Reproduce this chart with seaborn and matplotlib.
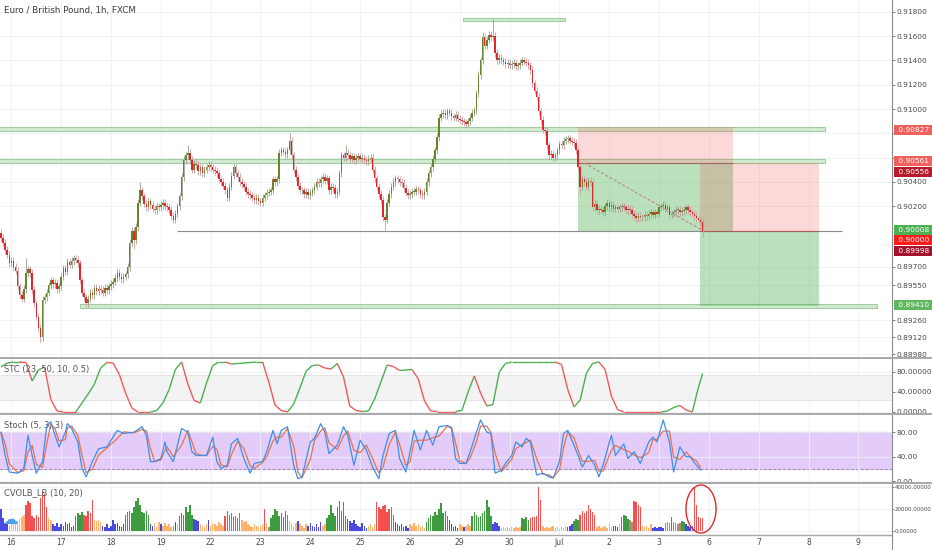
import numpy as np
import pandas as pd
import seaborn as sns
import matplotlib
matplotlib.use("Agg")
import matplotlib.pyplot as plt
import matplotlib.transforms as mtransforms
from matplotlib.collections import LineCollection
from matplotlib.lines import Line2D
from matplotlib.patches import Rectangle, Ellipse

sns.set_theme(style="white")
plt.rcParams['font.family'] = ['DejaVu Sans']

# ---- data --------------------------------------------------------------
# hourly closes in pips (8994 -> 0.8994), one per candle
CLOSE_PIPS = [
    8994, 8990, 8984, 8980, 8973, 8975, 8970, 8967, 8954, 8947,
    8944, 8952, 8965, 8968, 8965, 8951, 8940, 8929, 8920, 8912,
    8943, 8945, 8949, 8955, 8959, 8956, 8957, 8952, 8954, 8962,
    8969, 8966, 8974, 8972, 8975, 8977, 8976, 8973, 8959, 8949,
    8945, 8940, 8944, 8949, 8947, 8953, 8950, 8952, 8951, 8949,
    8953, 8951, 8954, 8956, 8958, 8961, 8965, 8962, 8960, 8962,
    8964, 8970, 8990, 9000, 8992, 9003, 9023, 9033, 9028, 9022,
    9019, 9024, 9021, 9018, 9017, 9020, 9019, 9021, 9023, 9020,
    9019, 9017, 9012, 9009, 9014, 9020, 9028, 9044, 9058, 9062,
    9064, 9058, 9050, 9055, 9054, 9049, 9052, 9047, 9050, 9052,
    9054, 9052, 9050, 9049, 9047, 9042, 9040, 9037, 9033, 9027,
    9036, 9045, 9052, 9047, 9044, 9040, 9038, 9036, 9032, 9030,
    9029, 9027, 9025, 9027, 9024, 9023, 9027, 9029, 9031, 9032,
    9033, 9042, 9040, 9042, 9064, 9066, 9065, 9063, 9066, 9074,
    9062, 9050, 9044, 9037, 9033, 9033, 9030, 9032, 9029, 9031,
    9033, 9036, 9040, 9039, 9042, 9044, 9041, 9043, 9033, 9036,
    9035, 9030, 9032, 9047, 9062, 9060, 9064, 9062, 9059, 9061,
    9058, 9060, 9061, 9059, 9060, 9058, 9057, 9059, 9060, 9050,
    9043, 9036, 9030, 9025, 9011, 9009, 9023, 9030, 9036, 9040,
    9043, 9042, 9040, 9039, 9035, 9031, 9029, 9030, 9032, 9032,
    9034, 9033, 9030, 9029, 9032, 9040, 9047, 9052, 9059, 9066,
    9077, 9093, 9096, 9097, 9095, 9098, 9097, 9094, 9093, 9095,
    9092, 9091, 9090, 9089, 9088, 9090, 9093, 9097, 9099, 9113,
    9128, 9140, 9159, 9152, 9157, 9161, 9159, 9160, 9146, 9140,
    9142, 9140, 9139, 9137, 9138, 9136, 9137, 9138, 9135, 9136,
    9138, 9140, 9139, 9138, 9136, 9132, 9121, 9115, 9110, 9098,
    9091, 9083, 9082, 9070, 9062, 9063, 9060, 9062, 9066, 9071,
    9070, 9074, 9075, 9076, 9074, 9073, 9072, 9066, 9052, 9036,
    9042, 9040, 9036, 9041, 9040, 9019, 9022, 9017, 9018, 9017,
    9015, 9020, 9023, 9019, 9021, 9018, 9019, 9018, 9019, 9020,
    9019, 9017, 9018, 9017, 9014, 9012, 9010, 9012, 9011, 9011,
    9013, 9012, 9014, 9015, 9013, 9015, 9014, 9019, 9020, 9021,
    9018, 9019, 9013, 9014, 9015, 9017, 9017, 9015, 9016, 9017,
    9019, 9017, 9015, 9014, 9012, 9010, 9009, 9007, 9000,
]
FIRST_OPEN = 8998
SPIKE_HIGH = {12: 8977, 35: 8980, 67: 9040, 90: 9070, 139: 9080, 166: 9070,
              210: 9080, 232: 9163, 237: 9174, 273: 9078}
SPIKE_LOW = {19: 8908, 41: 8938, 64: 8985, 125: 9020, 185: 9000, 279: 9030,
             338: 8995}

# volume in thousands, and its colour class per candle
VOLUME_K = [
    20, 12, 7, 6, 5, 7, 6, 8, 9, 11,
    13, 15, 24, 27, 25, 14, 12, 15, 13, 30,
    36, 34, 22, 12, 10, 6, 5, 7, 4, 6,
    5, 8, 6, 7, 4, 5, 14, 16, 15, 17,
    15, 14, 18, 16, 28, 10, 9, 10, 8, 5,
    4, 6, 3, 5, 10, 6, 7, 5, 4, 6,
    15, 17, 18, 16, 22, 27, 30, 24, 17, 16,
    18, 15, 6, 5, 7, 4, 8, 6, 5, 7,
    5, 6, 4, 5, 8, 6, 14, 16, 15, 22,
    17, 24, 15, 11, 10, 9, 6, 5, 4, 6,
    10, 5, 7, 6, 5, 8, 6, 5, 14, 18,
    15, 16, 13, 14, 12, 16, 10, 8, 9, 6,
    5, 4, 6, 5, 4, 5, 6, 20, 7, 4,
    12, 15, 20, 18, 14, 16, 13, 18, 15, 9,
    6, 5, 7, 9, 6, 5, 3, 6, 5, 7,
    5, 4, 6, 4, 8, 5, 6, 12, 15, 24,
    16, 14, 22, 27, 18, 26, 14, 11, 9, 7,
    10, 6, 5, 4, 7, 5, 3, 5, 6, 4,
    6, 26, 22, 20, 23, 24, 17, 20, 22, 15,
    8, 6, 5, 6, 4, 5, 3, 6, 5, 7,
    5, 6, 4, 5, 3, 8, 12, 15, 14, 17,
    15, 20, 25, 16, 18, 14, 10, 6, 4, 5,
    3, 6, 5, 4, 5, 6, 5, 14, 17, 15,
    13, 14, 16, 18, 28, 22, 14, 6, 8, 7,
    5, 3, 4, 3, 4, 3, 4, 3, 4, 3,
    4, 12, 11, 13, 10, 12, 13, 13, 14, 40,
    28, 5, 3, 4, 3, 4, 5, 3, 4, 2,
    4, 3, 5, 4, 5, 6, 9, 11, 10, 15,
    18, 16, 18, 24, 20, 17, 15, 4, 5, 3,
    4, 5, 3, 6, 4, 5, 5, 4, 6, 13,
    15, 14, 11, 10, 8, 27, 26, 24, 22, 5,
    4, 5, 3, 6, 3, 4, 3, 4, 4, 3,
    7, 8, 7, 13, 8, 7, 6, 7, 9, 8,
    6, 5, 4, 5, 40, 24, 13, 12, 12,
]
VOLUME_CLASS = "".join([
    "bbbboooooo", "oorrrrrrrr", "rrroobbbbb", "bbbbbbgggg", "rrrrroooob",
    "bbbbbbbbbb", "gggggggggg", "ggbboooboo", "oooybogggg", "gggbbboooo",
    "booooooorr", "rrrrrroooo", "oooooooroy", "ggggggggro", "oooboooobb",
    "bbbbbooggg", "gggggggbbb", "bbbbbbbooo", "orrrrrrrrr", "bbbbbbbooo",
    "oooooggggg", "ggggggbbbb", "booboooggg", "gggggggbbb", "booooooooo",
    "oggggrrrrr", "rooooooooo", "ooobbbgggr", "rrrrrrrooo", "ooooobbbog",
    "gggyyrrrro", "oooobbbbbb", "yyygyyyygg", "bbbbrrrrr",
])

# STC (candle index, value)
STC_T = [0, 3, 6, 9, 12, 15, 18, 21, 24, 27, 30, 33, 36, 39, 42, 45, 48, 51,
         54, 57, 60, 63, 66, 69, 72, 75, 78, 81, 84, 87, 90, 93, 96, 99, 102,
         105, 108, 111, 114, 117, 120, 123, 126, 129, 132, 135, 138, 141, 144,
         147, 150, 153, 156, 159, 162, 165, 168, 171, 174, 177, 180, 183, 186,
         189, 192, 195, 198, 201, 204, 207, 210, 213, 216, 219, 222, 225, 228,
         231, 234, 237, 240, 243, 246, 249, 252, 255, 258, 261, 264, 267, 270,
         273, 276, 279, 282, 285, 288, 291, 294, 297, 300, 303, 306, 309, 312,
         315, 318, 321, 324, 327, 330, 333, 336, 338]
STC_V = [90, 98, 100, 100, 99, 62, 84, 90, 25, 2, 0, 0, 0, 18, 36, 56, 88, 99,
         98, 75, 38, 8, 0, 0, 0, 3, 18, 45, 85, 100, 56, 23, 18, 58, 93,
         100, 100, 96, 97, 98, 99, 100, 100, 60, 14, 3, 0, 16, 48,
         82, 93, 94, 88, 86, 97, 70, 12, 3, 1, 2, 26, 60, 94,
         91, 83, 84, 85, 66, 22, 2, 1, 1, 1, 1, 3, 40, 72,
         38, 12, 15, 80, 97, 100, 100, 100, 100, 100, 100, 100, 100, 95,
         45, 10, 24, 78, 97, 100, 85, 32, 5, 0, 0, 0, 0, 0,
         0, 0, 2, 9, 13, 4, 0, 50, 77]

# Stochastic %K (candle index, value)
STOCH_T = [0, 2, 4, 8, 11, 13, 15, 17, 20, 22, 24, 26, 28, 31, 32, 34, 37, 39,
           41, 44, 47, 51, 56, 59, 64, 68, 70, 72, 74, 77, 79, 80, 83, 87, 90,
           92, 94, 97, 99, 102, 104, 106, 109, 111, 114, 117, 120, 122, 126,
           128, 131, 133, 135, 138, 141, 143, 145, 149, 151, 154, 156, 158,
           162, 165, 167, 170, 173, 176, 179, 182, 184, 187, 190, 192, 195,
           197, 199, 202, 205, 208, 211, 215, 217, 219, 221, 224, 226, 229,
           231, 234, 236, 238, 241, 243, 246, 248, 251, 253, 255, 258, 261,
           264, 266, 269, 271, 273, 276, 278, 280, 283, 286, 288, 290, 294,
           296, 300, 302, 305, 308, 312, 314, 316, 319, 322, 324, 327, 330,
           332, 335, 337]
STOCH_K = [80, 42, 15, 13, 21, 75, 42, 13, 32, 89, 97, 75, 56, 80, 94, 86, 64,
           21, 7, 32, 53, 56, 83, 78, 80, 89, 75, 32, 32, 37, 64, 48, 32, 86,
           80, 48, 42, 42, 42, 72, 32, 21, 26, 61, 70, 37, 13, 29, 32, 48, 83,
           61, 83, 89, 26, 4, 7, 64, 70, 94, 80, 45, 59, 89, 75, 26, 67, 51,
           23, 4, 42, 78, 83, 37, 15, 48, 83, 51, 83, 59, 89, 91, 86, 37, 29,
           29, 48, 80, 100, 80, 78, 13, 18, 29, 42, 64, 56, 70, 64, 10, 13, 7,
           5, 32, 78, 83, 59, 42, 23, 42, 26, 7, 26, 75, 42, 61, 37, 48, 29,
           64, 72, 64, 100, 64, 15, 56, 40, 40, 26, 18]

DAY_LABELS = ["16", "17", "18", "19", "22", "23", "24", "25", "26", "29",
              "30", "Jul", "2", "3", "6", "7", "8", "9"]
PRICE_TICKS = [0.918, 0.916, 0.914, 0.912, 0.910, 0.908, 0.906, 0.904, 0.902,
               0.8970, 0.8955, 0.8926, 0.8912, 0.8898]
HIDDEN_TICKS = [0.908, 0.906]   # covered by the price tags

# drawing-tool levels on the price panel
ZONE_TOP = (0.91725, 0.91750, 222.5, 271.7)
ZONE_A = (0.90819, 0.90852, -1, 397)
ZONE_B = (0.90556, 0.90588, -1, 397)
ZONE_C = (0.89362, 0.89396, 38, 422)
LINE_9000 = (0.90000, 85, 405)
POS1 = dict(x0=278, x1=352.6, stop=0.90850, entry=0.90556, target=0.90000)
POS2 = dict(x0=336.7, x1=394, stop=0.90556, entry=0.90000, target=0.89380)

# (text, display price, colour)
PRICE_TAGS = [("0.90827", 0.90827, "#f0605d"), ("0.90561", 0.90570, "#f0605d"),
              ("0.90556", 0.90482, "#b71c2c"), ("0.90008", 0.90004, "#4caf50"),
              ("0.90000", 0.89922, "#ff1a1a"), ("0.89998", 0.89830, "#a5122e"),
              ("0.89410", 0.89387, "#5fb760")]

VOL_COLORS = {"b": "#4a4ae0", "o": "#ffb26b", "r": "#f45050",
              "g": "#3f9b3f", "y": "#a8906e"}

# ---- derived series ----------------------------------------------------
close = np.array(CLOSE_PIPS, dtype=float)
opn = np.concatenate([[FIRST_OPEN], close[:-1]])
idx = np.arange(len(close))
high = np.maximum(opn, close) + 3
low = np.minimum(opn, close) - 3
for k, v in SPIKE_HIGH.items():
    high[k] = max(high[k], v)
for k, v in SPIKE_LOW.items():
    low[k] = min(low[k], v)
close, opn, high, low = close / 1e4, opn / 1e4, high / 1e4, low / 1e4
up = close >= opn

stoch = pd.DataFrame({"t": STOCH_T, "k": STOCH_K})
stoch["d"] = stoch["k"].rolling(2, min_periods=1).mean()

vol = np.array(VOLUME_K) * 1000.0
vcol = [VOL_COLORS[c] for c in VOLUME_CLASS]

day_idx = [5 + 24 * k for k in range(len(DAY_LABELS))]

# ---- figure ------------------------------------------------------------
W, H = 932, 550
fig = plt.figure(figsize=(W / 100, H / 100), dpi=100)
fig.patch.set_facecolor("white")


def px_axes(top, bottom):
    return fig.add_axes([0, 1 - bottom / H, 892 / W, (bottom - top) / H])


ax = px_axes(0, 358)
ax_stc = px_axes(358, 414)
ax_sto = px_axes(414, 483)
ax_vol = px_axes(483, 535)
XLIM = (-0.48, 429.2)
grid_c = "#edf1f4"
txt_c = "#4a4a4a"

for a in (ax, ax_stc, ax_sto, ax_vol):
    a.set_xlim(*XLIM)
    a.set_facecolor("white")
    for s in ("left", "top", "bottom"):
        a.spines[s].set_visible(False)
    a.spines["right"].set_color("#8a8a8a")
    a.spines["right"].set_linewidth(0.8)
    a.yaxis.tick_right()
    a.set_xticks(day_idx)
    a.tick_params(axis="y", labelsize=5.3, colors=txt_c, length=2, width=0.5, pad=1.5)
    a.tick_params(axis="x", length=0)
    a.grid(True, color=grid_c, lw=0.6)
    a.set_axisbelow(True)
    if a is not ax_vol:
        a.set_xticklabels([])

# panel separators run across the whole width, as in the reference
for ypx in (358, 414, 483):
    fig.add_artist(Line2D([0, 1], [1 - ypx / H] * 2, color="#a8a8a8", lw=1.4))
fig.add_artist(Line2D([0, 892 / W], [1 - 535 / H] * 2, color="#a8a8a8", lw=1.0))
fig.add_artist(Line2D([892 / W] * 2, [0, 1 - 535 / H], color="#8a8a8a", lw=0.8))

# price panel
ax.set_ylim(0.88951, 0.91897)
ax.set_yticks(PRICE_TICKS)
ax.set_yticklabels(["" if t in HIDDEN_TICKS else f"{t:.5f}" for t in PRICE_TICKS])

zone_fc, zone_ec = "#d2ead2", "#9fcd9f"
for lo, hi, x0, x1 in (ZONE_TOP, ZONE_A, ZONE_B, ZONE_C):
    ax.add_patch(Rectangle((x0, lo), x1 - x0, hi - lo, facecolor=zone_fc,
                           edgecolor=zone_ec, lw=0.8, zorder=1))
ax.hlines(LINE_9000[0], LINE_9000[1], LINE_9000[2], color="#8c8c8c", lw=0.8, zorder=1)

for p in (POS1, POS2):
    ax.add_patch(Rectangle((p["x0"], p["entry"]), p["x1"] - p["x0"], p["stop"] - p["entry"],
                           facecolor=(0.94, 0.33, 0.31, 0.22), lw=0, zorder=1.2))
    ax.add_patch(Rectangle((p["x0"], p["target"]), p["x1"] - p["x0"], p["entry"] - p["target"],
                           facecolor=(0.30, 0.69, 0.31, 0.38), lw=0, zorder=1.1))
    ax.hlines(p["entry"], p["x0"], p["x1"], color="#a86060", lw=0.8, zorder=1.5)
ax.plot([POS1["x0"] + 3, idx[-1]], [POS1["entry"], close[-1]], ls=(0, (3, 2)),
        color="#c07c7c", lw=0.7, zorder=1.6)

wick_c = np.where(up, "#9aa08a", "#d49a9a")
ax.vlines(idx, low, high, colors=wick_c, lw=0.6, zorder=2)
body_h = np.maximum(np.abs(close - opn), 0.00004)
ax.bar(idx, body_h, bottom=np.minimum(opn, close), width=0.72,
       color=np.where(up, "#668529", "#e3262b"), linewidth=0, zorder=3)

ax.text(0.004, 0.972, "Euro / British Pound, 1h, FXCM", transform=ax.transAxes,
        fontsize=6.3, color="#3a3a3a", va="center", ha="left")

tag_tr = mtransforms.blended_transform_factory(ax.transAxes, ax.transData)
for label, yv, c in PRICE_TAGS:
    ax.text(1.004, yv, " " + label + "  ", transform=tag_tr, fontsize=5.3,
            color="white", va="center", ha="left", clip_on=False, zorder=10,
            bbox=dict(boxstyle="square,pad=0.25", facecolor=c, edgecolor="none"))

# STC panel
ax_stc.set_ylim(-4, 108)
ax_stc.axhspan(25, 75, color="#f3f3f3", zorder=0)
ax_stc.axhline(25, color="#e2e2e2", lw=0.6, zorder=0.5)
ax_stc.axhline(75, color="#e2e2e2", lw=0.6, zorder=0.5)
pts = np.column_stack([STC_T, STC_V]).astype(float)
segs = np.stack([pts[:-1], pts[1:]], axis=1)
seg_c, last = [], "#4caf50"
for dv in np.diff(STC_V):
    if dv > 0:
        last = "#4caf50"
    elif dv < 0:
        last = "#f05a5a"
    seg_c.append(last)
ax_stc.add_collection(LineCollection(segs, colors=seg_c, linewidths=1.0, zorder=3))
ax_stc.set_yticks([0, 40, 80])
ax_stc.set_yticklabels(["0.00000", "40.00000", "80.00000"])
ax_stc.text(0.004, 0.8, "STC (23, 50, 10, 0.5)", transform=ax_stc.transAxes,
            fontsize=6, color="#555555", va="center")

# Stoch panel
ax_sto.set_ylim(-3, 109.8)
ax_sto.axhspan(20, 80, color="#e3ccfa", zorder=0)
for lv in (20, 80):
    ax_sto.axhline(lv, color="#9a8aa8", lw=0.7, ls=(0, (3, 2)), zorder=0.5)
sns.lineplot(data=stoch, x="t", y="d", ax=ax_sto, color="#ef7046", lw=0.9, zorder=3)
sns.lineplot(data=stoch, x="t", y="k", ax=ax_sto, color="#3d8fe8", lw=0.9, zorder=4)
ax_sto.set_xlabel("")
ax_sto.set_ylabel("")
ax_sto.set_xlim(*XLIM)
ax_sto.set_yticks([0, 40, 80])
ax_sto.set_yticklabels(["0.00", "40.00", "80.00"])
ax_sto.set_xticks(day_idx)
ax_sto.set_xticklabels([])
ax_sto.text(0.004, 0.83, "Stoch (5, 3, 3)", transform=ax_sto.transAxes,
            fontsize=6, color="#555555", va="center")

# volume panel
ax_vol.set_ylim(-3600, 43600)
ax_vol.bar(np.arange(len(vol)), vol, width=0.72, color=vcol, linewidth=0, zorder=3)
ax_vol.set_yticks([0, 20000, 40000])
ax_vol.set_yticklabels(["0.00000", "20000.00000", "40000.00000"])
ax_vol.tick_params(axis="y", labelsize=4.0, colors=txt_c, length=1.2, pad=0.5)
ax_vol.set_xticklabels(DAY_LABELS)
ax_vol.tick_params(axis="x", labelsize=5.5, colors=txt_c, pad=2.5)
ax_vol.text(0.004, 0.81, "CVOLB_LB (10, 20)", transform=ax_vol.transAxes,
            fontsize=6, color="#555555", va="center")
ax_vol.add_patch(Ellipse((337.2, 20000), 14.5, 43600, fill=False,
                         edgecolor="#e02828", lw=1.0, zorder=5, clip_on=False))
ax_vol.text(0.011, 0.3, "\u2601", transform=ax_vol.transAxes, fontsize=11,
            color="#4aa3e8", ha="center", va="center", zorder=6)

fig.savefig("out.png", dpi=100)
